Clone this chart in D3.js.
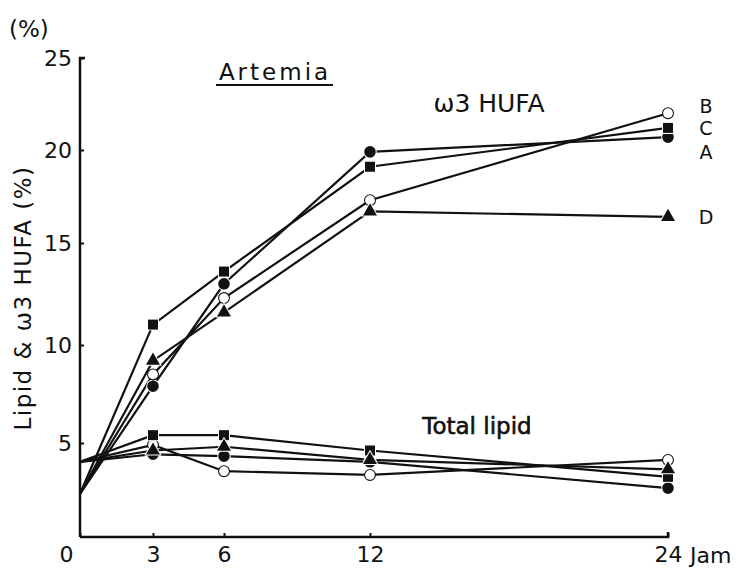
<!DOCTYPE html>
<html>
<head>
<meta charset="utf-8">
<script src="https://cdn.jsdelivr.net/npm/d3@7"></script>
<style>
  body { margin: 0; background: #fff; }
  svg text { font-family: "DejaVu Sans", sans-serif; fill: #111; }
</style>
</head>
<body>
<div id="chart"></div>
<script>
// Data (jam = hours)
const hours = [0, 3, 6, 12, 24];
const xTicks = [0, 3, 6, 12, 24];
const yTicks = [0, 5, 10, 15, 20, 25];

// omega-3 HUFA (%)
const hufaA = [2.3, 7.9, 13.0, 19.9, 20.7];
const hufaB = [2.3, 8.5, 12.3, 17.3, 22.0];
const hufaC = [2.3, 11.0, 13.6, 19.1, 21.2];
const hufaD = [2.3, 9.2, 11.6, 16.7, 16.4];

// Total lipid (%)
const lipidA = [4.0, 4.4, 4.3, 4.0, 2.6];
const lipidB = [4.0, 4.9, 3.5, 3.3, 4.1];
const lipidC = [4.0, 5.4, 5.4, 4.6, 3.2];
const lipidD = [4.0, 4.6, 4.8, 4.1, 3.6];

const endLabels = [
  { name: "B", value: 22.4 },
  { name: "C", value: 21.2 },
  { name: "A", value: 19.9 },
  { name: "D", value: 16.4 }
];

const width = 738, height = 573;

const svg = d3.select("#chart")
  .append("svg")
  .attr("width", width)
  .attr("height", height);

// Skale (scan is slightly uneven, so the ranges follow the printed ticks)
const x = d3.scaleLinear()
  .domain(xTicks)
  .range([80, 153, 224, 370, 668]);

const y = d3.scaleLinear()
  .domain(yTicks)
  .range([537, 443, 345, 243, 150, 58]);

// Osie
const xAxis = svg.append("g")
  .attr("transform", `translate(0,${y(0)})`)
  .call(d3.axisBottom(x).tickValues(xTicks).tickSize(-4).tickPadding(9).tickFormat(d3.format("d")));
xAxis.select(".domain").attr("stroke", "#111").attr("stroke-width", 2.5).attr("d", `M${x(0)},0H${x(24)}V-5`);
xAxis.selectAll(".tick line").attr("stroke", "#111").attr("stroke-width", 2);
xAxis.selectAll(".tick text").style("font-size", "22px").attr("fill", "#111");
xAxis.selectAll(".tick").filter(d => d === 0).select("text").attr("dx", -14);

const yAxis = svg.append("g")
  .attr("transform", `translate(${x(0)},0)`)
  .call(d3.axisLeft(y).tickValues(yTicks.slice(1)).tickSize(-4).tickPadding(8));
yAxis.select(".domain").attr("stroke", "#111").attr("stroke-width", 2.5).attr("d", `M5,${y(25)}H0V${y(0)}`);
yAxis.selectAll(".tick line").attr("stroke", "#111").attr("stroke-width", 2);
yAxis.selectAll(".tick text").style("font-size", "22px").attr("fill", "#111");

// "Jam" after 24
svg.append("text")
  .attr("x", x(24) + 22)
  .attr("y", y(0) + 26)
  .style("font-size", "22px")
  .text("Jam");

// (%)
svg.append("text")
  .attr("x", 9)
  .attr("y", 37)
  .style("font-size", "23px")
  .text("(%)");

// Y axis title
svg.append("text")
  .attr("transform", `translate(31,${298}) rotate(-90)`)
  .attr("text-anchor", "middle")
  .style("font-size", "23px")
  .style("letter-spacing", "1.5px")
  .text("Lipid & ω3 HUFA (%)");

// Artemia + underline
svg.append("text")
  .attr("x", 275)
  .attr("y", 80)
  .attr("text-anchor", "middle")
  .style("font-size", "23px")
  .style("letter-spacing", "3px")
  .text("Artemia");
svg.append("line")
  .attr("x1", 216).attr("x2", 333)
  .attr("y1", 85).attr("y2", 85)
  .attr("stroke", "#111").attr("stroke-width", 2);

svg.append("text")
  .attr("x", 489)
  .attr("y", 112)
  .attr("text-anchor", "middle")
  .style("font-size", "25px")
  .text("ω3 HUFA");

svg.append("text")
  .attr("x", 477)
  .attr("y", 434)
  .attr("text-anchor", "middle")
  .style("font-size", "23px")
  .style("stroke", "#111")
  .style("stroke-width", "0.6px")
  .text("Total lipid");

// Linie i znaczniki
const line = d3.line()
  .x((d, i) => x(hours[i]))
  .y(d => y(d));

const symbols = {
  A: { type: d3.symbolCircle, size: 105, fill: "#111" },
  B: { type: d3.symbolCircle, size: 75, fill: "#fff" },
  C: { type: d3.symbolSquare, size: 100, fill: "#111" },
  D: { type: d3.symbolTriangle, size: 85, fill: "#111" }
};

const groups = [
  { name: "A", values: hufaA }, { name: "B", values: hufaB },
  { name: "C", values: hufaC }, { name: "D", values: hufaD },
  { name: "A", values: lipidA }, { name: "B", values: lipidB },
  { name: "C", values: lipidC }, { name: "D", values: lipidD }
];

groups.forEach(g => {
  svg.append("path")
    .datum(g.values)
    .attr("fill", "none")
    .attr("stroke", "#111")
    .attr("stroke-width", 2.2)
    .attr("d", line);
});

groups.forEach(g => {
  const s = symbols[g.name];
  const pts = g.values.map((v, i) => ({ t: hours[i], v })).filter(d => d.t > 0);
  svg.selectAll(null)
    .data(pts)
    .enter()
    .append("path")
    .attr("transform", d => `translate(${x(d.t)},${y(d.v)})`)
    .attr("d", d3.symbol().type(s.type).size(s.size))
    .attr("fill", s.fill)
    .attr("stroke", s.fill === "#fff" ? "#111" : "#fff")
    .attr("stroke-width", s.fill === "#fff" ? 2.2 : 2)
    .style("paint-order", "stroke");
});

// Etykiety serii
svg.selectAll(".end-label")
  .data(endLabels)
  .enter()
  .append("text")
  .attr("class", "end-label")
  .attr("x", 706)
  .attr("y", d => y(d.value) + 7)
  .attr("text-anchor", "middle")
  .style("font-size", "19px")
  .text(d => d.name);
</script>
</body>
</html>
